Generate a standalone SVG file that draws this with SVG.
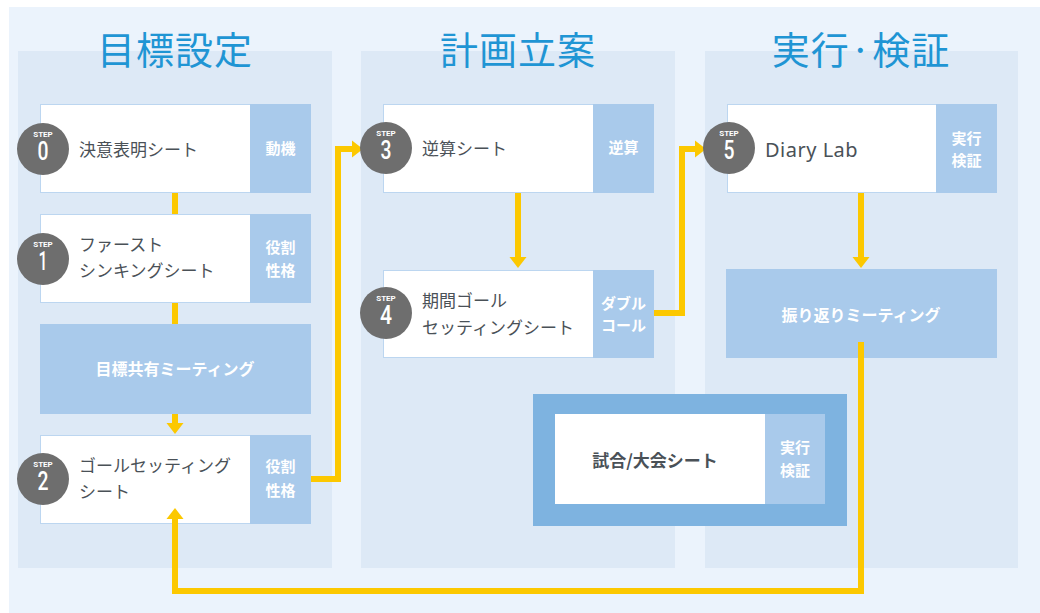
<svg xmlns="http://www.w3.org/2000/svg" width="1040" height="613" viewBox="0 0 1040 613">
<defs>
<style>
.bg{fill:#ebf3fc}
.panel{fill:#dde9f6}
.title{font-family:"Noto Sans CJK JP","Noto Sans",sans-serif;font-size:38px;fill:#1f95d4;text-anchor:middle;letter-spacing:1px}
.card{fill:#ffffff;stroke:#bcd6f0;stroke-width:1}
.tag{fill:#a9caeb}
.meet{fill:#a9caeb}
.label{font-family:"Noto Sans CJK JP","Noto Sans",sans-serif;font-size:17px;fill:#4a5157}
.tagtxt{font-family:"Noto Sans CJK JP","Noto Sans",sans-serif;font-size:15px;font-weight:bold;fill:#ffffff;text-anchor:middle}
.meettxt{font-family:"Noto Sans CJK JP","Noto Sans",sans-serif;font-size:16px;font-weight:bold;fill:#ffffff;text-anchor:middle}
.circ{fill:#6e6e6e}
.step{font-family:"Roboto","DejaVu Sans",sans-serif;font-size:8px;font-weight:bold;fill:#ffffff;text-anchor:middle}
.num{font-family:"Roboto","DejaVu Sans",sans-serif;font-size:25px;font-weight:500;fill:#ffffff;text-anchor:middle}
.conn{fill:none;stroke:#fcc800;stroke-width:6;stroke-linejoin:miter}
</style>
<marker id="arr" markerUnits="userSpaceOnUse" markerWidth="12" markerHeight="18" refX="0" refY="8.5" orient="auto" overflow="visible">
<path d="M0,0 L11,8.5 L0,17 Z" fill="#fcc800"/>
</marker>
</defs>

<rect class="bg" x="9" y="7" width="1031" height="606"/>
<rect class="panel" x="18" y="51" width="314" height="517"/>
<rect class="panel" x="361" y="51" width="314" height="517"/>
<rect class="panel" x="705" y="51" width="313" height="517"/>

<text class="title" x="175" y="64">目標設定</text>
<text class="title" x="518" y="64">計画立案</text>
<text class="title" x="861" y="64">実行·検証</text>

<g id="connectors">
<path class="conn" d="M175,192 V214"/>
<path class="conn" d="M175,303 V324"/>
<path class="conn" d="M175,414 V423" marker-end="url(#arr)"/>
<path class="conn" d="M311,479 H338 V149 H352" marker-end="url(#arr)"/>
<path class="conn" d="M518,193 V257" marker-end="url(#arr)"/>
<path class="conn" d="M654,313 H682 V149 H695" marker-end="url(#arr)"/>
<path class="conn" d="M861,193 V257" marker-end="url(#arr)"/>
</g>

<g id="step0">
<rect class="card" x="40.5" y="104.5" width="210" height="88"/>
<rect class="tag" x="250" y="104" width="61" height="89"/>
<circle class="circ" cx="43" cy="149" r="26"/>
<text class="step" x="43" y="137">STEP</text>
<text class="num" x="43" y="160" textLength="11" lengthAdjust="spacingAndGlyphs">0</text>
<text class="label" x="79" y="156">決意表明シート</text>
<text class="tagtxt" x="280.5" y="154">動機</text>
</g>

<g id="step1">
<rect class="card" x="40.5" y="214.5" width="210" height="88"/>
<rect class="tag" x="250" y="214" width="61" height="89"/>
<circle class="circ" cx="43" cy="259" r="26"/>
<text class="step" x="43" y="247">STEP</text>
<text class="num" x="43" y="270" textLength="9" lengthAdjust="spacingAndGlyphs">1</text>
<text class="label" x="79" y="251">ファースト</text>
<text class="label" x="79" y="277">シンキングシート</text>
<text class="tagtxt" x="280.5" y="253">役割</text>
<text class="tagtxt" x="280.5" y="276">性格</text>
</g>

<g id="meeting1">
<rect class="meet" x="40" y="324" width="271" height="90"/>
<text class="meettxt" x="175" y="375">目標共有ミーティング</text>
</g>

<g id="step2">
<rect class="card" x="40.5" y="435.5" width="210" height="88"/>
<rect class="tag" x="250" y="435" width="61" height="89"/>
<circle class="circ" cx="43" cy="479" r="26"/>
<text class="step" x="43" y="467">STEP</text>
<text class="num" x="43" y="490" textLength="11" lengthAdjust="spacingAndGlyphs">2</text>
<text class="label" x="79" y="472">ゴールセッティング</text>
<text class="label" x="79" y="498">シート</text>
<text class="tagtxt" x="280.5" y="472">役割</text>
<text class="tagtxt" x="280.5" y="496">性格</text>
</g>

<g id="step3">
<rect class="card" x="383.5" y="104.5" width="210" height="88"/>
<rect class="tag" x="593" y="104" width="61" height="89"/>
<circle class="circ" cx="386" cy="148" r="26"/>
<text class="step" x="386" y="136">STEP</text>
<text class="num" x="386" y="159" textLength="11" lengthAdjust="spacingAndGlyphs">3</text>
<text class="label" x="422" y="155">逆算シート</text>
<text class="tagtxt" x="623.5" y="153">逆算</text>
</g>

<g id="step4">
<rect class="card" x="383.5" y="270.5" width="210" height="87"/>
<rect class="tag" x="593" y="270" width="61" height="88"/>
<circle class="circ" cx="386" cy="313" r="26"/>
<text class="step" x="386" y="301">STEP</text>
<text class="num" x="386" y="324" textLength="12" lengthAdjust="spacingAndGlyphs">4</text>
<text class="label" x="422" y="307">期間ゴール</text>
<text class="label" x="422" y="334">セッティングシート</text>
<text class="tagtxt" x="623.5" y="309">ダブル</text>
<text class="tagtxt" x="623.5" y="331">コール</text>
</g>

<g id="step5">
<rect class="card" x="727.5" y="104.5" width="209" height="88"/>
<rect class="tag" x="936" y="104" width="61" height="89"/>
<circle class="circ" cx="729" cy="148" r="26"/>
<text class="step" x="729" y="136">STEP</text>
<text class="num" x="729" y="159" textLength="11" lengthAdjust="spacingAndGlyphs">5</text>
<text x="765" y="157" style="font-family:'Noto Sans','Open Sans',sans-serif;font-size:20px;fill:#4a5157;letter-spacing:0.5px">Diary Lab</text>
<text class="tagtxt" x="966.5" y="144">実行</text>
<text class="tagtxt" x="966.5" y="166">検証</text>
</g>

<g id="meeting2">
<rect class="meet" x="726" y="269" width="271" height="89"/>
<text class="meettxt" x="861" y="321">振り返りミーティング</text>
</g>

<g id="match">
<rect x="533" y="394" width="314" height="132" fill="#7eb3e0"/>
<rect x="555" y="414" width="210" height="90" fill="#ffffff"/>
<rect x="765" y="414" width="60" height="90" fill="#a9caeb"/>
<text class="label" x="655" y="467" text-anchor="middle" style="font-weight:bold">試合/大会シート</text>
<text class="tagtxt" x="795" y="453">実行</text>
<text class="tagtxt" x="795" y="476">検証</text>
</g>

<g id="connectors-return">
<path class="conn" d="M861,342 V591 H175 V519" marker-end="url(#arr)"/>
</g>
</svg>
